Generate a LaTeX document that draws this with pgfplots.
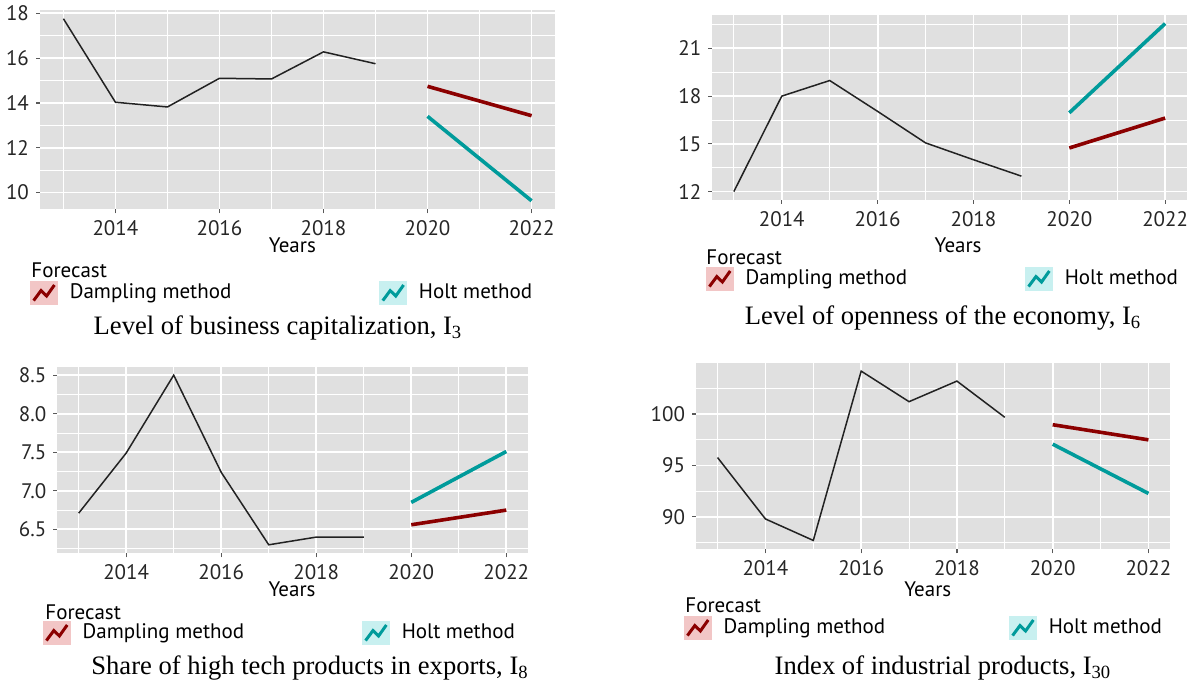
\documentclass[border=0pt]{standalone}
\usepackage{pgfplots}
\pgfplotsset{compat=1.18}
\usepackage{fontspec}
\setmainfont{Liberation Serif}
\setsansfont{PT Sans}
\definecolor{bg}{HTML}{E0E0E0}
\definecolor{damp}{HTML}{8B0000}
\definecolor{holt}{HTML}{009B9B}
\definecolor{dampfill}{HTML}{F2C6C6}
\definecolor{holtfill}{HTML}{C8F0F0}
\definecolor{blk}{HTML}{222222}
\newcommand{\sfs}{\sffamily\fontsize{10.5}{12}\selectfont}
\newcommand{\caps}{\fontsize{13.3}{15}\selectfont}
\pgfplotsset{
  ggp/.style={
    scale only axis,
    anchor=south west,
    axis background/.style={fill=bg},
    axis line style={draw=none},
    grid=both,
    major grid style={white, line width=0.9pt},
    minor grid style={white, line width=0.45pt},
    tick pos=left,
    tick align=outside,
    major tick length=2pt,
    minor tick length=0pt,
    tick style={black!65, line width=0.6pt},
    xmin=2012.55, xmax=2022.45,
    xtick={2014,2016,2018,2020,2022},
    xticklabels={2014,2016,2018,2020,2022},
    minor xtick={2013,2015,2017,2019,2021},
    ticklabel style={font=\sfs, text=black!85},
    xlabel={Years},
    xlabel style={font=\sfs, anchor=center},
    legend columns=2,
    legend style={draw=none, fill=none, inner sep=0pt, outer sep=0pt, font=\sfs, anchor=west,
      /tikz/every odd column/.append style={column sep=4pt}},
    legend cell align=left,
  },
  histl/.style={blk, line width=0.75pt, forget plot},
  dampl/.style={damp, line width=1.8pt,
    legend image code/.code={
      \fill[dampfill] (0pt,-5pt) rectangle (12pt,5pt);
      \draw[damp, line width=1.5pt] (0.8pt,-3.8pt) -- (4.5pt,1.2pt) -- (7.3pt,-1.5pt) -- (11.2pt,4pt);
    }},
  holtl/.style={holt, line width=1.8pt,
    legend image code/.code={
      \fill[holtfill] (0pt,-5pt) rectangle (12pt,5pt);
      \draw[holt, line width=1.5pt] (0.8pt,-3.8pt) -- (4.5pt,1.2pt) -- (7.3pt,-1.5pt) -- (11.2pt,4pt);
    }},
}
\begin{document}
\begin{tikzpicture}
\useasboundingbox (0,0) rectangle (597.5pt,342pt);
% Panel 1
\begin{axis}[ggp, at={(20pt,237.35pt)}, width=257.5pt, height=99.65pt,
  ymin=9.25, ymax=18.15,
  ytick={10,12,14,16,18}, yticklabels={10,12,14,16,18},
  minor ytick={11,13,15,17},
  xlabel style={at={(axis description cs:0.49,-0.179)}},
  legend style={at={(axis description cs:-0.019,-0.42)},
    /tikz/column 2/.style={column sep=72pt}},
]
\addplot[histl] coordinates {(2013,17.76)(2014,14.03)(2015,13.82)(2016,15.10)(2017,15.07)(2018,16.28)(2019,15.75)};
\addplot[dampl] coordinates {(2020,14.74)(2022,13.43)};
\addlegendentry{Dampling method}
\addplot[holtl] coordinates {(2020,13.40)(2022,9.63)};
\addlegendentry{Holt method}
\end{axis}
% Panel 2
\begin{axis}[ggp, at={(356.15pt,242pt)}, width=237.2pt, height=92.5pt,
  ymin=11.47, ymax=23.1,
  ytick={12,15,18,21}, yticklabels={12,15,18,21},
  minor ytick={13.5,16.5,19.5,22.5},
  xlabel style={at={(axis description cs:0.518,-0.243)}},
  legend style={at={(axis description cs:-0.0133,-0.427)},
    /tikz/column 2/.style={column sep=57pt}},
]
\addplot[histl] coordinates {(2013,12.0)(2014,18.0)(2015,18.98)(2016,17.04)(2017,15.06)(2018,14.0)(2019,12.97)};
\addplot[dampl] coordinates {(2020,14.74)(2022,16.62)};
\addlegendentry{Dampling method}
\addplot[holtl] coordinates {(2020,16.95)(2022,22.56)};
\addlegendentry{Holt method}
\end{axis}
% Panel 3
\begin{axis}[ggp, at={(28.65pt,65.35pt)}, width=235.2pt, height=93.3pt,
  ymin=6.19, ymax=8.61,
  ytick={6.5,7,7.5,8,8.5}, yticklabels={6.5,7.0,7.5,8.0,8.5},
  minor ytick={6.25,6.75,7.25,7.75,8.25},
  xlabel style={at={(axis description cs:0.499,-0.191)}},
  legend style={at={(axis description cs:-0.0304,-0.427)},
    /tikz/column 2/.style={column sep=57pt}},
]
\addplot[histl] coordinates {(2013,6.71)(2014,7.49)(2015,8.5)(2016,7.24)(2017,6.30)(2018,6.40)(2019,6.40)};
\addplot[dampl] coordinates {(2020,6.56)(2022,6.75)};
\addlegendentry{Dampling method}
\addplot[holtl] coordinates {(2020,6.85)(2022,7.51)};
\addlegendentry{Holt method}
\end{axis}
% Panel 4
\begin{axis}[ggp, at={(348pt,67.35pt)}, width=237pt, height=93pt,
  ymin=86.85, ymax=104.93,
  ytick={90,95,100}, yticklabels={90,95,100},
  minor ytick={87.5,92.5,97.5,102.5},
  xlabel style={at={(axis description cs:0.489,-0.213)}},
  legend style={at={(axis description cs:-0.0253,-0.423)},
    /tikz/column 2/.style={column sep=60pt}},
]
\addplot[histl] coordinates {(2013,95.77)(2014,89.80)(2015,87.71)(2016,104.17)(2017,101.2)(2018,103.2)(2019,99.68)};
\addplot[dampl] coordinates {(2020,98.96)(2022,97.49)};
\addlegendentry{Dampling method}
\addplot[holtl] coordinates {(2020,97.07)(2022,92.28)};
\addlegendentry{Holt method}
\end{axis}
% Titles and captions (pixel coordinates, y down)
\begin{scope}[x=0.5pt, y=-0.5pt, shift={(0pt,342pt)}]
\node[anchor=west, font=\sfs, inner sep=0pt] at (31,270) {Forecast};
\node[anchor=west, font=\sfs, inner sep=0pt] at (706,257) {Forecast};
\node[anchor=west, font=\sfs, inner sep=0pt] at (45,612) {Forecast};
\node[anchor=west, font=\sfs, inner sep=0pt] at (685,605) {Forecast};
\node[font=\caps, inner sep=0pt] at (278,328) {Level of business capitalization, I\textsubscript{3}};
\node[font=\caps, inner sep=0pt] at (943,318) {Level of openness of the economy, I\textsubscript{6}};
\node[font=\caps, inner sep=0pt] at (310,668) {Share of high tech products in exports, I\textsubscript{8}};
\node[font=\caps, inner sep=0pt] at (943,668) {Index of industrial products, I\textsubscript{30}};
\end{scope}
\end{tikzpicture}
\end{document}
